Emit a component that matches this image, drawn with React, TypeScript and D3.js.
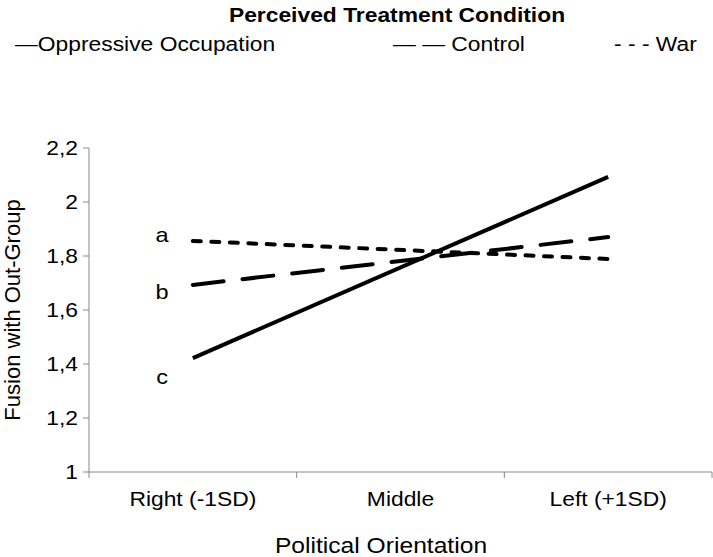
import React from "react";
import * as d3 from "d3";

const categories = ["Right (-1SD)", "Middle", "Left (+1SD)"];
const yTicks = [1, 1.2, 1.4, 1.6, 1.8, 2, 2.2];
const lineCats = ["Right (-1SD)", "Left (+1SD)"];
const oppressive = [1.422, 2.093];
const control = [1.693, 1.870];
const war = [1.856, 1.789];
const letters = ["a", "b", "c"];
const letterValues = [1.878, 1.667, 1.352];
const legendLabels = ["—Oppressive Occupation", "— — Control", "- - - War"];

const W = 713, H = 557;
const FONT = "'Liberation Sans', Arial, sans-serif";
const SX = 1.12;

function T(props: { x: number; y: number; size: number; anchor?: string; weight?: string; children: any }) {
  return (
    <text transform={`translate(${props.x},${props.y}) scale(${SX},1)`} textAnchor={props.anchor || "start"}
      fontSize={props.size} fontWeight={props.weight || "normal"} fill="#000">
      {props.children}
    </text>
  );
}

export default function App() {
  const x = d3.scaleBand().domain(categories).range([89, 712]).padding(0);
  const y = d3.scaleLinear().domain([1, 2.2]).range([472, 148]);
  const cx = (c: string) => x(c)! + x.bandwidth() / 2;
  const line = d3.line<number>().x((_, i) => cx(lineCats[i])).y((d) => y(d));
  const series = [
    { vals: oppressive, dash: undefined as string | undefined, cap: "butt" },
    { vals: control, dash: "31 19", cap: "round" },
    { vals: war, dash: "8 10.5", cap: "round" },
  ];
  const bandTicks = [...categories.map((c) => x(c)!), x.range()[1]];
  const grey = "#898989";
  const legendX = [15, 393, 614];
  return (
    <svg width={W} height={H} style={{ position: "absolute", left: 0, top: 0 }} fontFamily={FONT}>
      <rect width={W} height={H} fill="#fff" />
      <T x={397} y={22} size={20.4} anchor="middle" weight="bold">Perceived Treatment Condition</T>
      {legendLabels.map((l, i) => (
        <T key={l} x={legendX[i]} y={51} size={20.4}>{l}</T>
      ))}
      {/* y axis */}
      <line x1={89} x2={89} y1={y(2.2)} y2={y(1)} stroke={grey} strokeWidth={1} />
      {yTicks.map((t) => (
        <g key={t}>
          <line x1={83} x2={89} y1={y(t)} y2={y(t)} stroke={grey} />
          <T x={78} y={y(t) + 7} size={20.4} anchor="end">{String(t).replace(".", ",")}</T>
        </g>
      ))}
      {/* x axis */}
      <line x1={89} x2={x.range()[1]} y1={y(1)} y2={y(1)} stroke={grey} />
      {bandTicks.map((t, i) => (
        <line key={i} x1={t} x2={t} y1={y(1)} y2={y(1) + 6} stroke={grey} />
      ))}
      {categories.map((c) => (
        <T key={c} x={cx(c)} y={506} size={20.4} anchor="middle">{c}</T>
      ))}
      <T x={381} y={553} size={22} anchor="middle">Political Orientation</T>
      <text transform={`translate(20,310) rotate(-90)`} textAnchor="middle" fontSize={22}>Fusion with Out-Group</text>
      {series.map((s, i) => (
        <path key={i} d={line(s.vals)!} fill="none" stroke="#000" strokeWidth={4}
          strokeDasharray={s.dash} strokeLinecap={s.cap as any} />
      ))}
      {letters.map((l, i) => (
        <T key={l} x={162} y={y(letterValues[i]) + 7} size={21} anchor="middle">{l}</T>
      ))}
    </svg>
  );
}
